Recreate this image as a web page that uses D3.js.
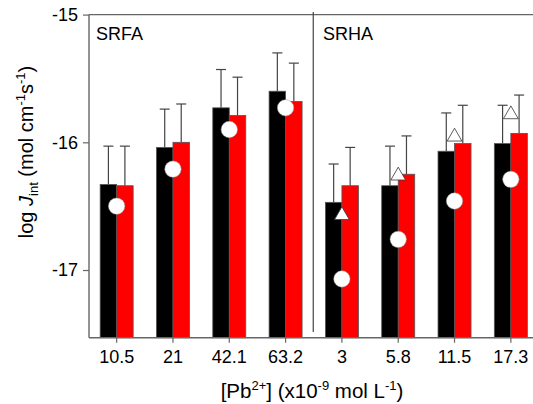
<!DOCTYPE html>
<meta charset="utf-8">
<html>
<script src="https://d3js.org/d3.v7.min.js"></script>
<style>
    body { margin: 0; background: #fff; }
    svg { font-family: "Liberation Sans", Arial, sans-serif; display: block; }
</style>
<body>
<div id="chart"></div>
<script>
    // Data
    var categories = ["10.5", "21", "42.1", "63.2", "3", "5.8", "11.5", "17.3"];
    var blackBars = [-16.33, -16.04, -15.73, -15.60, -16.47, -16.34, -16.07, -16.01];
    var redBars = [-16.34, -16.00, -15.79, -15.68, -16.34, -16.25, -16.01, -15.93];
    var blackErr = [0.30, 0.30, 0.30, 0.30, 0.30, 0.31, 0.30, 0.30];
    var redErr = [0.31, 0.30, 0.30, 0.30, 0.30, 0.30, 0.30, 0.30];
    var circles = [-16.50, -16.21, -15.90, -15.73, -17.07, -16.76, -16.46, -16.29];
    var triangles = [null, null, null, null, -16.56, -16.25, -15.945, -15.77];
    var yTicks = [-15, -16, -17];

    var W = 533, H = 404;
    var plotLeft = 89, plotTop = 14.6, plotBottom = 337.7;

    var svg = d3.select("#chart").append("svg")
        .attr("width", W).attr("height", H);

    var x = d3.scaleBand()
        .domain(categories)
        .range([88.5, 539])
        .padding(0);

    var y = d3.scaleLinear()
        .domain([-17.53, -15])
        .range([plotBottom, plotTop]);

    var barW = 16.5;
    var axisColor = "#666";

    var rows = categories.map(function (c, i) {
        return { c: c, b: blackBars[i], r: redBars[i], be: blackErr[i], re: redErr[i], ci: circles[i], t: triangles[i] };
    });

    // error bars (upward only)
    function errBar(cx, v, e) {
        var g = svg.append("g").attr("stroke", "#444").attr("stroke-width", 1.2);
        g.append("line").attr("x1", cx).attr("x2", cx).attr("y1", y(v)).attr("y2", y(v + e));
        g.append("line").attr("x1", cx - 5).attr("x2", cx + 5).attr("y1", y(v + e)).attr("y2", y(v + e));
    }
    rows.forEach(function (d) {
        var cx = x(d.c) + x.bandwidth() / 2;
        errBar(cx - barW / 2, d.b, d.be);
        errBar(cx + barW / 2, d.r, d.re);
    });

    // bars
    svg.selectAll(".bblack").data(rows).enter().append("rect")
        .attr("x", function (d) { return x(d.c) + x.bandwidth() / 2 - barW; })
        .attr("y", function (d) { return y(d.b); })
        .attr("width", barW)
        .attr("height", function (d) { return plotBottom - y(d.b); })
        .attr("fill", "#000")
        .attr("stroke", "#555").attr("stroke-width", 0.8);

    svg.selectAll(".bred").data(rows).enter().append("rect")
        .attr("x", function (d) { return x(d.c) + x.bandwidth() / 2; })
        .attr("y", function (d) { return y(d.r); })
        .attr("width", barW)
        .attr("height", function (d) { return plotBottom - y(d.r); })
        .attr("fill", "#ff0000")
        .attr("stroke", "#555").attr("stroke-width", 0.8);

    // triangles
    var tri = d3.symbol().type(d3.symbolTriangle).size(95);
    svg.selectAll(".tri").data(rows.filter(function (d) { return d.t !== null; })).enter().append("path")
        .attr("d", tri)
        .attr("transform", function (d) {
            return "translate(" + (x(d.c) + x.bandwidth() / 2) + "," + (y(d.t) + 1.5) + ")";
        })
        .attr("fill", "#fff").attr("stroke", "#333").attr("stroke-width", 0.8);

    // circles
    svg.selectAll(".dot").data(rows).enter().append("circle")
        .attr("cx", function (d) { return x(d.c) + x.bandwidth() / 2; })
        .attr("cy", function (d) { return y(d.ci); })
        .attr("r", 8.2)
        .attr("fill", "#fff").attr("stroke", "#999").attr("stroke-width", 0.5);

    // axes
    var yAxis = svg.append("g").attr("transform", "translate(" + plotLeft + ",0)")
        .call(d3.axisLeft(y).tickValues(yTicks).tickSize(6).tickPadding(5)
            .tickFormat(function (d) { return String(d); }));
    yAxis.select(".domain").remove();
    yAxis.selectAll("line").attr("stroke", axisColor).attr("stroke-width", 1.2);
    yAxis.selectAll("text").attr("font-size", 18).attr("fill", "#000").attr("font-family", "Liberation Sans, Arial, sans-serif");
    svg.append("line").attr("x1", plotLeft).attr("x2", plotLeft).attr("y1", plotTop).attr("y2", plotBottom)
        .attr("stroke", axisColor).attr("stroke-width", 1.4);

    var xAxis = svg.append("g").attr("transform", "translate(0," + plotBottom + ")")
        .call(d3.axisBottom(x).tickSize(5).tickPadding(8));
    xAxis.select(".domain").remove();
    xAxis.selectAll("line").attr("stroke", axisColor).attr("stroke-width", 1.2);
    xAxis.selectAll("text").attr("font-size", 18).attr("fill", "#000").attr("font-family", "Liberation Sans, Arial, sans-serif");
    svg.append("line").attr("x1", plotLeft).attr("x2", W).attr("y1", plotBottom).attr("y2", plotBottom)
        .attr("stroke", axisColor).attr("stroke-width", 1.4);

    // top frame line
    svg.append("line").attr("x1", plotLeft).attr("x2", W).attr("y1", plotTop).attr("y2", plotTop)
        .attr("stroke", axisColor).attr("stroke-width", 1.4);

    // divider between SRFA and SRHA
    var divX = x("3") - 0.5;
    svg.append("line").attr("x1", divX).attr("x2", divX).attr("y1", 12).attr("y2", 332)
        .attr("stroke", "#444").attr("stroke-width", 1.2);

    // panel labels
    svg.append("text").attr("x", 96).attr("y", 39.5).attr("font-size", 18).text("SRFA");
    svg.append("text").attr("x", 323).attr("y", 39.5).attr("font-size", 18).text("SRHA");

    // y label
    var yl = svg.append("text")
        .attr("transform", "translate(33,152) rotate(-90)")
        .attr("text-anchor", "middle")
        .attr("font-size", 20);
    yl.append("tspan").text("log ");
    yl.append("tspan").attr("font-style", "italic").text("J");
    yl.append("tspan").attr("font-size", 13).attr("dy", 5).text("int");
    yl.append("tspan").attr("dy", -5).text(" (mol cm");
    yl.append("tspan").attr("font-size", 13).attr("dy", -8).text("-1");
    yl.append("tspan").attr("dy", 8).text("s");
    yl.append("tspan").attr("font-size", 13).attr("dy", -8).text("-1");
    yl.append("tspan").attr("dy", 8).text(")");

    // x label
    var xl = svg.append("text")
        .attr("x", 312).attr("y", 398)
        .attr("text-anchor", "middle")
        .attr("font-size", 20.5);
    xl.append("tspan").text("[Pb");
    xl.append("tspan").attr("font-size", 13).attr("dy", -8).text("2+");
    xl.append("tspan").attr("dy", 8).text("] (x10");
    xl.append("tspan").attr("font-size", 13).attr("dy", -8).text("-9");
    xl.append("tspan").attr("dy", 8).text(" mol L");
    xl.append("tspan").attr("font-size", 13).attr("dy", -8).text("-1");
    xl.append("tspan").attr("dy", 8).text(")");
</script>
</body>
</html>
